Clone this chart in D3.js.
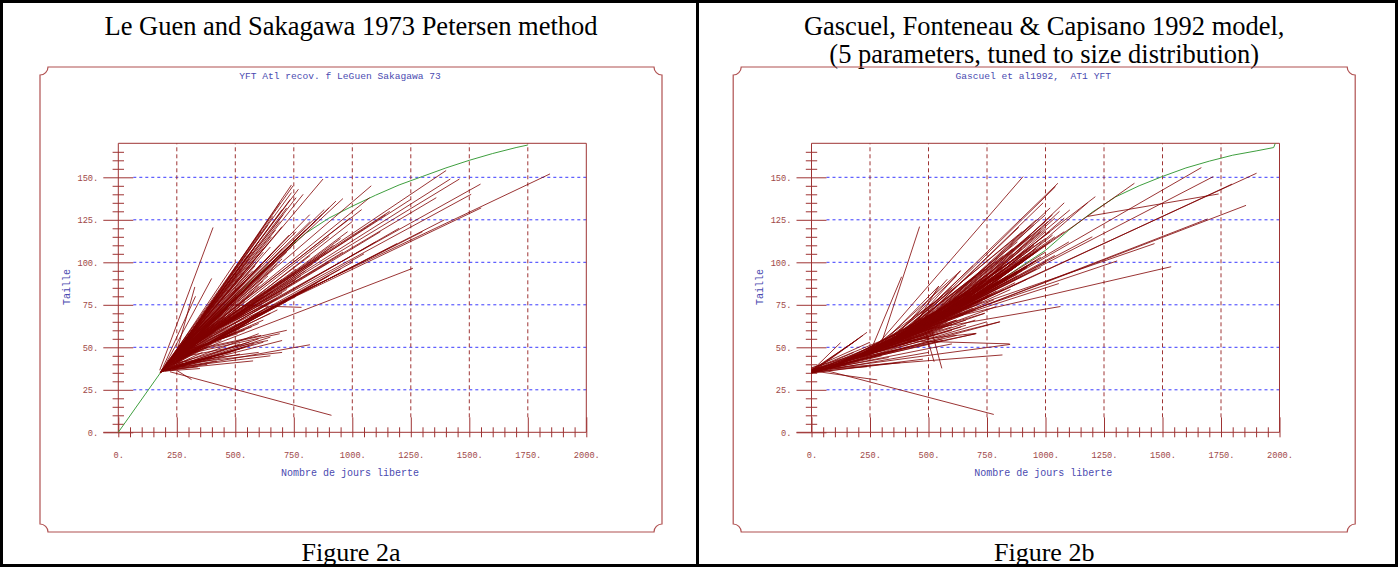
<!DOCTYPE html>
<html>
<head>
<meta charset="utf-8">
<script src="https://cdn.jsdelivr.net/npm/d3@7"></script>
<style>
  body { margin: 0; background: #fff; }
  svg { display: block; }
</style>
</head>
<body>
<svg id="fig" width="1398" height="567"></svg>
<script>
// ---- axis ticks ----
const dayTicks = [0, 250, 500, 750, 1000, 1250, 1500, 1750, 2000];
const sizeTicks = [0, 25, 50, 75, 100, 125, 150];
const dayGrid = [250, 500, 750, 1000, 1250, 1500, 1750];
const sizeGrid = [25, 50, 75, 100, 125, 150];

// ---- Le Guen & Sakagawa 1973 : growth curve (days, size) ----
const lsCurveDays = [0, 180, 250, 300, 400, 500, 600, 700, 800, 900, 1000, 1100, 1200, 1300, 1400, 1500, 1600, 1700, 1750];
const lsCurveSize = [0, 35, 45, 52, 66, 80, 93, 105.5, 117, 126, 133, 139.5, 145.5, 150.5, 155.5, 160, 164, 167.5, 169];

// tag-recapture tracks: [release day, release size, recapture day, recapture size]
const lsTracks = [
  [178,35,747,145],[182,36,740,141],[186,36.5,735,137],[190,37,720,132],[194,38,705,128],[180,35.5,690,124],
  [198,38.5,672,119],[184,36,655,115],[202,39,640,111],[188,37,620,106],[206,40,600,101],[192,37.5,585,98],
  [210,40.5,560,93],[196,38,540,88],[214,41,520,84],[200,39,500,80],[218,42,480,76],[204,39.5,460,72],
  [222,43,440,69],[208,40,420,65],[230,44,875,149],[186,36.5,770,143],[212,41,760,138],[196,38,700,121],
  [220,42.5,650,109],[200,39,610,99],[226,43.5,575,95],[204,39.5,530,83],[232,44.5,495,75],[216,41.5,455,68],
  [177,36.5,405,120.5],[200,39.5,399,90.5],[190,38,330,80],[225,43.5,498,99.5],[249,47,327,85.5],[236,45,480,90],
  [240,45.5,552,104],[246,46.5,610,118],[252,47.5,700,131],[258,48.5,790,140],[264,49.5,740,145.5],[268,50,690,135],
  [272,51,660,127],[244,46,640,122],[260,49,600,112],[234,45,590,110],[228,44,570,106],[256,48,560,102],
  [248,47,530,96],[238,45.5,500,91],[270,50.5,530,92],[276,51.5,580,100],[280,52,620,108],
  [184,36,930,136],[236,45,960,137.5],[190,37,900,132],[242,46,870,128],[196,38,840,124],[248,47,818,128],
  [202,39,800,119],[254,48,780,116],[208,40,760,112],[260,49,740,109],[214,41,720,106],[266,50,700,102],
  [220,42,680,99],[272,51,660,96],[226,43,640,92],[278,52,620,89],[232,44,600,86],[188,37,580,83],
  [238,45,560,80],[194,38,540,77],[244,46,520,74],[200,39,500,71],[250,47,480,68],[206,40,460,66],
  [256,48,440,63],[212,41,420,60],[262,49,400,57],[218,42,380,55],[180,35,620,95],[186,36,560,86],
  [192,37.5,510,79],[198,38.5,470,73],[222,43,700,108],[228,44,760,118],[234,45,820,124],[240,46,880,131],
  [246,47,690,110],[252,47.5,730,116],[258,48.5,650,104],[264,49.5,610,98],[270,50.5,570,93],
  [240,46,1081,145],[230,44,1074,138],[250,47.5,1142,128],[182,36,1000,124],[188,37,980,118],[194,38,950,114],
  [200,39,920,110],[206,40,890,106],[212,41,860,102],[218,42,830,99],[224,43,800,95],[230,44,780,92],
  [236,45,760,90],[242,46,740,87],[248,47,720,84],[254,48,700,82],[260,49,680,79],[266,50,660,77],
  [180,35,640,74],[186,36,620,72],[192,37,600,70],[198,38,580,67],[204,39,560,65],[210,40,540,63],
  [216,41,520,61],[222,42,500,59],[228,43,480,57],[234,44,460,56],[240,45,440,54],[246,46,660,83],
  [252,47,700,90],[258,48,620,80],[264,49,580,75],[270,50,540,70],[200,39,760,96],[210,40.5,820,104],
  [220,42,900,115],[232,44.5,990,126],[244,46.5,1040,131],
  [255,48,1401,154],[248,47,1419,149],[262,49,1458,149],[244,46,1548,146],[236,45,1508,140],[260,48.5,1845,152],
  [226,43,1394,125],[240,46,1551,132],[218,42,1191,111],[252,47.5,1359,138],[210,41,1259,96.5],[232,44,1300,118],
  [222,42.5,1200,120],[214,41.5,1100,112],[206,40,1050,105],[198,39,1000,100],[190,37.5,950,96],[184,36.5,900,92],
  [178,35,850,88],[186,36.5,800,84],[464,75,783,73.5],[198,38.5,760,80],[204,39.5,720,77],[210,40.5,680,72],
  [216,41.5,650,70],[222,42.5,620,66],[228,43.5,600,64],[234,44.5,570,62],[240,45.5,540,60],[246,46.5,510,58],
  [268,50,1250,137],[274,51,1160,130],[230,44,1120,118],[238,45,960,106],[250,47,900,100],
  [230,37,819,51.5],[200,36.5,700,54],[210,37,650,56],[186,36,620,53],[216,37.5,600,55],[192,36,580,52],
  [222,38,560,51],[198,36.5,540,50],[228,38.5,520,49],[204,37,500,48],[234,39,480,47],[240,38,650,45],
  [246,40,700,47],[252,41,600,47],[214,37,576,42],[220,37.5,520,46],[182,35.5,450,45],[188,36,400,44],
  [196,36,349,37.5],[206,37,420,42],[258,45,690,58],[264,46,720,60],[270,47,610,57],[260,44,640,54],
  [180,35.5,520,52],[194,37,600,58],[236,40,560,53],
  [221,35.6,911,10],[249,36.5,313,31],[200,36,380,40],[215,36.5,340,38.5],
  [180,35,300,52],[185,36,320,55],[190,37,340,58],[195,38,360,60],[200,39,310,50],[205,40,330,53],
  [210,41,350,56],[215,42,370,59],[220,43,390,62],[182,35.5,360,47],[188,36.5,380,50],[194,37.5,400,52],
  [200,38.5,420,55]
];

// ---- Gascuel, Fonteneau & Capisano 1992 : growth curve (days, size) ----
const gfcCurveDays = [0, 100, 200, 300, 400, 500, 600, 700, 800, 900, 1000, 1100, 1200, 1300, 1400, 1500, 1600, 1700, 1800, 1900, 1975, 1982];
const gfcCurveSize = [35, 39.5, 44.5, 50, 56.5, 63.5, 71, 79.5, 88.5, 98, 107, 119, 129.5, 138.5, 145, 150.5, 155.5, 159.5, 163, 165.5, 167.5, 170];

const gfcTracks = [
  [0,35.5,237,58.8],[0,36,124,52.7],[10,36,281,30.8],[30,37.5,779,10.5],[0,35,476,43],[0,36.5,237,38.6],
  [0,35,500,47],[0,35.5,600,52],[0,36,700,58],[0,37,560,55],[0,35.5,420,50],[0,36,360,48],
  [0,35,300,45],[0,36.5,260,46],[0,35,200,42],[10,36,160,44],[0,37,440,54],[0,35.5,520,58],
  [0,36,640,62],[0,35,750,65],[0,36,849,51.7],[0,35,806,65],[20,37,816,45.5],[0,38,320,50.5],
  [0,36,390,55],[15,36.5,460,62],[0,35.5,540,66],[0,37,620,72],[0,36,180,47],[0,35,150,40],
  [0,37.5,250,53],[0,36,200,55],[0,35,220,57],[0,36.5,180,53],[0,35,380,41],[0,36,330,44],
  [50,37,500,62],[80,38.5,540,66],[100,39.5,580,70],[120,40.5,620,73],[150,42,660,76],[180,43.5,700,80],
  [200,44.5,740,84],[50,37,450,58],[80,38.5,480,60],[100,39.5,520,64],[120,40.5,560,67],[150,42,600,70],
  [180,43.5,640,74],[200,44.5,680,77],[60,37.5,400,54],[90,39,430,56],[110,40,470,59],[130,41,510,62],
  [160,42.5,550,65],[190,44,590,69],[70,38,600,74],[100,39.5,650,79],[130,41,700,84],[160,42.5,750,88],
  [190,44,800,92],[60,37.5,350,52],[120,40.5,380,55],[140,41.5,430,60],[170,43,470,63],[200,44.5,520,68],
  [80,38.5,700,66],[100,39.5,740,70],[140,41.5,790,74],[170,43,704,58],[120,40.5,660,63],[160,42.5,600,60],
  [60,37.5,560,54],[90,39,620,57],[190,44,804,65],
  [220,45.5,600,75],[240,46.5,650,80],[260,48,700,85],[280,49,750,90],[300,50,800,95],[320,51.5,850,100],
  [340,53,900,105],[360,54,950,110],[380,55.5,1000,114],[400,56.5,886,120.6],[220,45.5,560,70],[240,46.5,610,74],
  [260,48,660,78],[280,49,710,83],[300,50,760,87],[320,51.5,810,92],[340,53,860,96],[360,54,910,101],
  [380,55.5,960,106],[400,56.5,1020,112],[230,46,520,66],[250,47,560,69],[270,48.5,600,72],[290,49.5,640,76],
  [310,51,680,79],[330,52,720,82],[350,53.5,760,85],[370,55,800,89],[390,56,840,92],[210,45,700,72],
  [250,47,780,78],[290,49.5,850,84],[330,52,920,90],[370,55,980,97],[240,45,904,150.4],[300,53,462,121],
  [260,48,637,95],[280,49,544,86],[310,51,620,92],[350,53.5,690,98],[220,45.5,480,62],[300,50,520,64],
  [260,48,540,58],[280,49,600,62],[330,52,660,66],[380,55.5,740,70],[340,53,704,58.2],[480,62,524,41.5],
  [505,64,557,37.6],[360,54,847,52],[250,47,385,91.5],[380,55.5,637,95],[420,58,544,86],[250,47,560,80],
  [280,49,600,85],[200,44,520,76],[330,52,580,90],
  [150,42,520,60],[170,43,560,64],[190,44,600,67],[210,45,640,71],[230,46,680,75],[250,47,720,78],
  [270,48.5,760,82],[290,49.5,800,86],[310,51,840,90],[330,52,880,94],[150,42,600,72],[170,43,640,76],
  [190,44,680,80],[210,45,720,84],[230,46,760,88],[250,47,800,92],[270,48.5,840,96],[290,49.5,880,100],
  [310,51,920,104],[330,52,960,108],[350,53.5,640,70],[370,55,680,74],[390,56,720,77],[410,57,760,81],
  [430,59,800,85],[450,60.5,840,89],[470,61.5,880,93],[490,63,920,97],[510,64.5,960,101],[530,66,1000,106],
  [350,53.5,600,64],[370,55,620,66],[390,56,650,69],[410,57,670,71],[430,59,690,73],[450,60.5,710,75],
  [470,61.5,730,77],[490,63,750,79],[510,64.5,770,81],[530,66,790,83],[250,47,500,56],[270,48.5,530,59],
  [290,49.5,560,61],[310,51,590,63],[330,52,620,66],[200,44.5,450,54],[220,45.5,480,57],[240,46.5,510,59],
  [260,48,550,63],[280,49,580,65],[300,50,700,92],[320,51.5,740,96],[340,53,780,100],[360,54,820,104],
  [380,55.5,860,108],[400,56.5,900,112],[420,58,940,116],[440,59.5,980,120],[460,61,1000,124],[480,62,1020,118],
  [550,67.5,850,95],[570,69,880,98],[590,70.5,910,101],[610,72,940,104],[630,73,970,107],[650,75,880,92],
  [670,76.5,900,95],[690,78.5,920,97],[710,80,950,100],[730,82,980,103],
  [420,58,900,100],[440,59.5,950,105],[460,61,1000,110],[480,62,1040,115],[500,63.5,1080,118],[520,65,980,112],
  [540,66.5,940,108],[560,68,900,104],[580,69.5,860,100],[600,71,820,96],[410,57,800,88],[430,59,840,92],
  [450,60.5,880,95],[470,62,920,98],[490,63,960,101],[510,64.5,760,85],[530,66,780,88],[550,67.5,800,90],
  [570,69,700,82],[590,70.5,740,86],[420,58,760,80],[450,60.5,820,84],[480,62,870,88],[510,64.5,900,92],
  [540,66.5,960,96],[570,69,1000,100],[600,71,1040,104],[440,59.5,700,77],[470,61.5,720,80],[500,63.5,750,83],
  [430,59,1064,74],[460,61,1057,87.5],[490,63,1306,100.8],[520,65,1537,97.4],[550,67.5,1466,111],
  [450,60.5,1902,152.4],[420,58,1797,146],[380,55.5,1857,133.5],[400,56.5,1693,125.5],[1180,127,1740,140.2],
  [520,65,1717,150.4],[560,68,1666,155.7],[600,71,1380,146.5],[500,63.5,1213,138.6],[540,66.5,1104,130.8],
  [360,54,1053,146.5],[380,55,1043,144.5],[680,78,1100,112],[600,71,1200,115],[550,67,1000,120],
  [480,62,950,122],[520,65,1030,128],[580,70,1080,135],[620,73,1000,118],[760,85,1180,135],
  [400,56.5,990,135],[420,58,1000,128],[440,59.5,960,125],[460,61,1020,132],[300,50,940,122],
  [320,51.5,900,118],[340,53,880,112],[500,63.5,980,118],[520,65,1010,124],[560,68,1040,126],
  [600,71,1060,130],[640,74,1080,126],[680,78,1030,116],[560,68,900,108],[480,62,860,105],
  [440,59.5,820,100],[400,56.5,780,96],[360,54,740,92]
];

// ---- panel descriptions ----
const panels = [
  {
    dx: 0,
    title: ["Le Guen and Sakagawa 1973 Petersen method"],
    subtitle: "YFT Atl recov. f LeGuen Sakagawa 73",
    caption: "Figure 2a",
    curveDays: lsCurveDays, curveSize: lsCurveSize, tracks: lsTracks
  },
  {
    dx: 693.2,
    title: ["Gascuel, Fonteneau & Capisano 1992 model,", "(5 parameters, tuned to size distribution)"],
    subtitle: "Gascuel et al1992,  AT1 YFT",
    caption: "Figure 2b",
    curveDays: gfcCurveDays, curveSize: gfcCurveSize, tracks: gfcTracks
  }
];

const axisColor = "#9e3434";
const frameColor = "#b05050";
const labelColor = "#a04848";
const blueText = "#4a4ab0";
const gridBlue = "#3a3aff";
const trackColor = "#800000";
const curveColor = "#3f9f3f";
const mono = "'Liberation Mono', 'DejaVu Sans Mono', monospace";
const serif = "'Liberation Serif', 'Times New Roman', serif";

const svg = d3.select("#fig");
svg.append("rect").attr("width", 1398).attr("height", 567).attr("fill", "#fff");

function framePath(x, y, w, h, r) {
  return `M${x + r},${y} L${x + w - r},${y} A${r},${r} 0 0 0 ${x + w},${y + r}` +
         ` L${x + w},${y + h - r} A${r},${r} 0 0 0 ${x + w - r},${y + h}` +
         ` L${x + r},${y + h} A${r},${r} 0 0 0 ${x},${y + h - r}` +
         ` L${x},${y + r} A${r},${r} 0 0 0 ${x + r},${y} Z`;
}

function drawPanel(p) {
  const g = svg.append("g").attr("transform", `translate(${p.dx},0)`);
  const x = d3.scaleLinear().domain([0, 2000]).range([118.3, 586.3]);
  const y = d3.scaleLinear().domain([0, 170]).range([432.3, 143.3]);

  // headings
  p.title.forEach((t, i) => {
    g.append("text").attr("x", 351).attr("y", 35 + i * 28)
      .attr("text-anchor", "middle").attr("font-family", serif).attr("font-size", 26.5)
      .attr("fill", "#000").text(t);
  });
  g.append("text").attr("x", 351).attr("y", 561)
    .attr("text-anchor", "middle").attr("font-family", serif).attr("font-size", 26)
    .attr("fill", "#000").text(p.caption);

  // plotter frame
  g.append("path").attr("d", framePath(40, 67, 622, 465, 8))
    .attr("fill", "none").attr("stroke", frameColor).attr("stroke-width", 1.2);

  g.append("text").attr("x", 340).attr("y", 79)
    .attr("text-anchor", "middle").attr("font-family", mono).attr("font-size", 9.6)
    .attr("fill", blueText).style("white-space", "pre").text(p.subtitle);

  // grid
  g.append("g").selectAll("line").data(sizeGrid).join("line")
    .attr("x1", x(0) + 15).attr("x2", x(2000))
    .attr("y1", d => y(d)).attr("y2", d => y(d))
    .attr("stroke", gridBlue).attr("stroke-width", 1).attr("stroke-dasharray", "3,3");
  g.append("g").selectAll("line").data(dayGrid).join("line")
    .attr("x1", d => x(d)).attr("x2", d => x(d))
    .attr("y1", y(0) - 15).attr("y2", y(170))
    .attr("stroke", axisColor).attr("stroke-width", 1).attr("stroke-dasharray", "4,3");

  // plot border and axis lines
  const border = [
    [x(0), y(0), x(0), y(170)],
    [x(0), y(170), x(2000), y(170)],
    [x(2000), y(170), x(2000), y(0)],
    [x(0) - 15, y(0), x(2000), y(0)]
  ];
  g.append("g").selectAll("line").data(border).join("line")
    .attr("x1", d => d[0]).attr("y1", d => d[1]).attr("x2", d => d[2]).attr("y2", d => d[3])
    .attr("stroke", axisColor).attr("stroke-width", 1);

  // x axis: major and minor ticks
  const gx = g.append("g").attr("transform", `translate(0,${y(0)})`)
    .call(d3.axisBottom(x).tickValues(dayTicks).tickSize(5).tickFormat(d => d + "."));
  gx.select(".domain").remove();
  gx.selectAll(".tick line").attr("y1", -15).attr("stroke", axisColor);
  gx.selectAll(".tick text").attr("y", 23).attr("dy", "0.35em")
    .attr("font-family", mono).attr("font-size", 8.7).attr("fill", labelColor);

  const minorDays = d3.range(50, 2000, 50).filter(d => d % 250 !== 0);
  const gxm = g.append("g").attr("transform", `translate(0,${y(0)})`)
    .call(d3.axisBottom(x).tickValues(minorDays).tickSize(5).tickFormat(""));
  gxm.select(".domain").remove();
  gxm.selectAll(".tick line").attr("y1", -5).attr("stroke", axisColor);

  // y axis: major and minor ticks
  const gy = g.append("g").attr("transform", `translate(${x(0)},0)`)
    .call(d3.axisLeft(y).tickValues(sizeTicks).tickSize(15).tickFormat(d => d + "."));
  gy.select(".domain").remove();
  gy.selectAll(".tick line").attr("x1", 15).attr("stroke", axisColor);
  gy.selectAll(".tick text").attr("x", -20).attr("dy", "0.35em")
    .attr("font-family", mono).attr("font-size", 8.7).attr("fill", labelColor);

  const minorSize = d3.range(5, 170, 5).filter(d => d % 25 !== 0);
  const gym = g.append("g").attr("transform", `translate(${x(0)},0)`)
    .call(d3.axisLeft(y).tickValues(minorSize).tickSize(5.7).tickFormat(""));
  gym.select(".domain").remove();
  gym.selectAll(".tick line").attr("x1", 5.7).attr("stroke", axisColor);

  // axis titles
  g.append("text").attr("x", 350).attr("y", 476)
    .attr("text-anchor", "middle").attr("font-family", mono).attr("font-size", 10)
    .attr("fill", blueText).text("Nombre de jours liberte");
  g.append("text").attr("transform", "translate(70,287) rotate(-90)")
    .attr("text-anchor", "middle").attr("font-family", mono).attr("font-size", 10)
    .attr("fill", blueText).text("Taille");

  // growth curve
  const curve = p.curveDays.map((d, i) => [d, p.curveSize[i]]);
  g.append("path").datum(curve)
    .attr("d", d3.line().x(d => x(d[0])).y(d => y(d[1])))
    .attr("fill", "none").attr("stroke", curveColor).attr("stroke-width", 1);

  // tag-recapture tracks
  g.append("g").selectAll("line").data(p.tracks).join("line")
    .attr("x1", d => x(d[0])).attr("y1", d => y(d[1]))
    .attr("x2", d => x(d[2])).attr("y2", d => y(d[3]))
    .attr("stroke", trackColor).attr("stroke-width", 0.8);
}

panels.forEach(drawPanel);

// outer box and divider
svg.append("rect").attr("x", 1.5).attr("y", 1.5).attr("width", 1395).attr("height", 564)
  .attr("fill", "none").attr("stroke", "#000").attr("stroke-width", 3);
svg.append("line").attr("x1", 697.5).attr("x2", 697.5).attr("y1", 0).attr("y2", 567)
  .attr("stroke", "#000").attr("stroke-width", 3);
</script>
</body>
</html>
